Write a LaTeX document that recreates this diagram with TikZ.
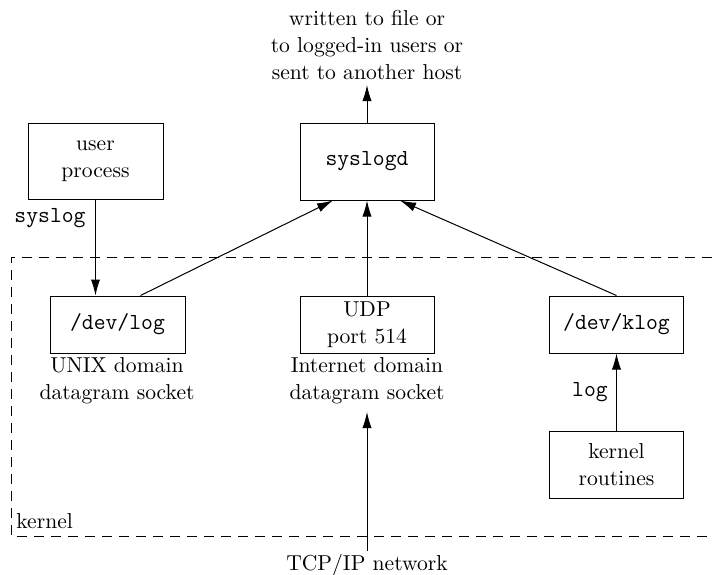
\documentclass[tikz,border=0pt]{standalone}
\usetikzlibrary{arrows.meta,calc}
\begin{document}
\begin{tikzpicture}[x=0.5pt,y=-0.5pt,
  box/.style={draw,line width=0.5pt,inner sep=0pt,align=center},
  rm/.style={font=\fontsize{10.8}{13.3}\selectfont,align=center},
  tt/.style={font=\fontsize{11.5}{13}\selectfont\ttfamily},
  arr/.style={line width=0.5pt,-{Latex[length=8pt,width=4.6pt]}},
  kbox/.style={line width=0.5pt,dash pattern=on 5pt off 3.5pt}]
\useasboundingbox (0,0) rectangle (712,574);
% boxes
\node[box,rm,minimum width=67.5pt,minimum height=38pt] (user) at (95.5,161.5) {user\\process};
\node[box,tt,minimum width=67pt,minimum height=38.5pt] (syslogd) at (367,161.5) {syslogd};
\node[box,tt,minimum width=67.5pt,minimum height=28.5pt] (devlog) at (117.5,324.5) {/dev/log};
\node[box,rm,minimum width=67pt,minimum height=28.5pt] (udp) at (367,324.5) {UDP\\port 514};
\node[box,tt,minimum width=67pt,minimum height=28.5pt] (klog) at (616.5,324.5) {/dev/klog};
\node[box,rm,minimum width=67pt,minimum height=33.5pt] (kr) at (616.5,464.5) {kernel\\routines};
% labels
\node[rm] (out) at (367,45) {written to file or\\to logged-in users or\\sent to another host};
\coordinate (outtip) at (367,85);
\node[tt] (syslogl) at (50,218) {syslog};
\node[rm] (unixl) at (117,381) {UNIX domain\\datagram socket};
\node[rm] (inetl) at (367,381) {Internet domain\\datagram socket};
\node[tt] (logl) at (590,392) {log};
\node[rm] (tcp) at (367,565) {TCP/IP network};
\coordinate (tcpfoot) at (367,551);
\coordinate (tcptip) at (367,412);
\node[rm,anchor=west,inner sep=0pt] (kernl) at (16,521) {kernel};
% kernel dashed region (open on right)
\draw[kbox] (712,257) -- (11,257) -- (11,536) -- (712,536);
% connectors
\draw[arr] (syslogd.north) -- (outtip);
\draw[arr] (user.south) -- (user.south |- devlog.north);
\draw[arr] ([xshift=11.5pt]devlog.north) -- ([xshift=-17pt]syslogd.south);
\draw[arr] (udp.north) -- (syslogd.south);
\draw[arr] (klog.north) -- ([xshift=16.5pt]syslogd.south);
\draw[arr] (kr.north) -- (klog.south);
\draw[arr] (tcpfoot) -- (tcptip);
\end{tikzpicture}
\end{document}
